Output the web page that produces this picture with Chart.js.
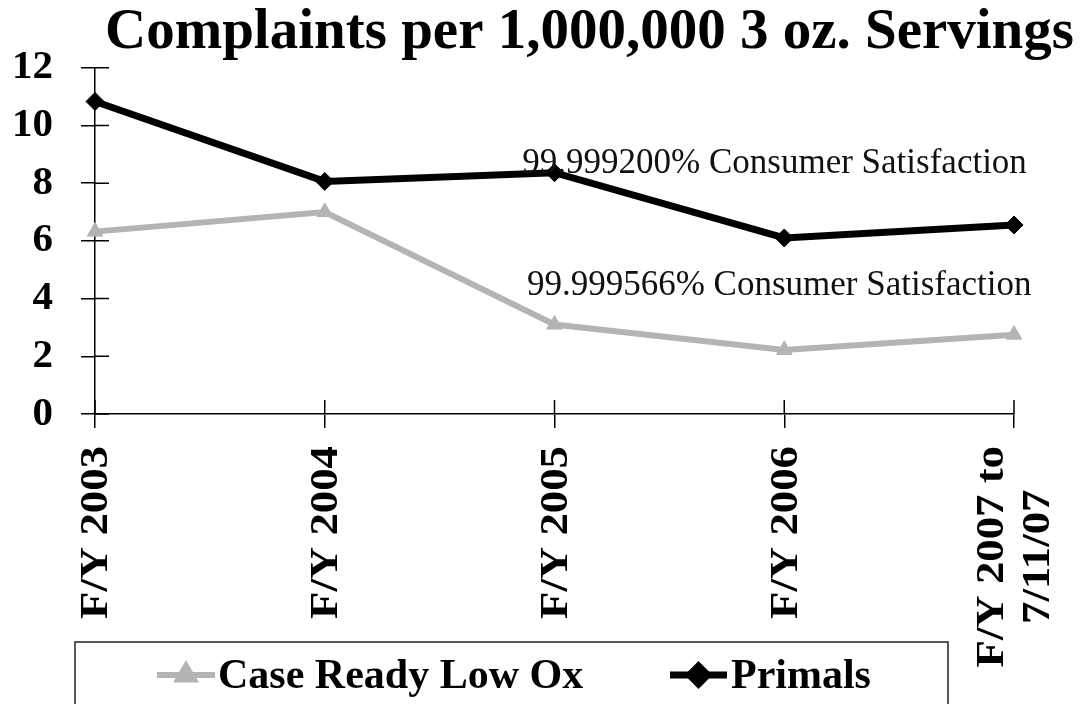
<!DOCTYPE html>
<html>
<head>
<meta charset="utf-8">
<script src="https://cdn.jsdelivr.net/npm/chart.js@4.4.1/dist/chart.umd.min.js"></script>
<style>
  html, body { margin: 0; padding: 0; background: #fff; }
  #wrap { width: 1080px; height: 704px; }
</style>
</head>
<body>
<div id="wrap"><canvas id="chartCanvas" width="1080" height="704"></canvas></div>
<script>
// Datos del gráfico
const categorias = ['F/Y 2003', 'F/Y 2004', 'F/Y 2005', 'F/Y 2006', ['F/Y 2007 to', '7/11/07']];
const caseReady = [6.32, 7.0, 3.1, 2.22, 2.75];
const primals = [10.83, 8.06, 8.36, 6.1, 6.55];
const yTicks = [0, 2, 4, 6, 8, 10, 12];
const notas = [
    { texto: '99.999200% Consumer Satisfaction', x: 1.86, y: 8.36 },
    { texto: '99.999566% Consumer Satisfaction', x: 1.88, y: 4.13 }
];

const serif = "'Liberation Serif', 'Times New Roman', serif";

// Marcas interiores de los ejes (cruzan la línea del eje)
const innerTicks = {
    id: 'innerTicks',
    beforeDatasetsDraw(chart) {
        const ctx = chart.ctx;
        const x = chart.scales.x, y = chart.scales.y;
        ctx.save();
        ctx.strokeStyle = '#000';
        ctx.lineWidth = 1.5;
        ctx.beginPath();
        yTicks.forEach(v => {
            const py = y.getPixelForValue(v);
            ctx.moveTo(x.left, py);
            ctx.lineTo(x.left + 14, py);
        });
        categorias.forEach((c, i) => {
            const px = x.getPixelForTick(i);
            ctx.moveTo(px, y.bottom);
            ctx.lineTo(px, y.bottom - 14);
        });
        ctx.stroke();
        ctx.restore();
    }
};

// Etiquetas del eje X giradas
const xLabels = {
    id: 'xLabels',
    afterDraw(chart) {
        const ctx = chart.ctx;
        const x = chart.scales.x;
        const top = x.top + 32;
        const stretch = 1.12;
        const lh = 46;
        ctx.save();
        ctx.font = 'bold 40px ' + serif;
        ctx.fillStyle = '#000';
        chart.data.labels.forEach((label, i) => {
            const lines = Array.isArray(label) ? label : [label];
            const w = Math.max(...lines.map(l => ctx.measureText(l).width)) * stretch;
            const px = x.getPixelForTick(i);
            ctx.save();
            ctx.translate(px, top + w / 2);
            ctx.rotate(-Math.PI / 2);
            ctx.scale(stretch, 1);
            ctx.textAlign = 'center';
            ctx.textBaseline = 'middle';
            lines.forEach((l, j) => {
                ctx.fillText(l, 0, (j - (lines.length - 1) / 2) * lh + 2);
            });
            ctx.restore();
        });
        ctx.restore();
    }
};

// Textos de satisfacción
const notasPlugin = {
    id: 'notas',
    afterDatasetsDraw(chart) {
        const ctx = chart.ctx;
        const x = chart.scales.x, y = chart.scales.y;
        ctx.save();
        ctx.font = '35px ' + serif;
        ctx.fillStyle = '#111';
        ctx.textBaseline = 'alphabetic';
        notas.forEach(n => {
            ctx.fillText(n.texto, x.getPixelForValue(n.x), y.getPixelForValue(n.y));
        });
        ctx.restore();
    }
};

// Leyenda en recuadro abajo
const leyenda = {
    id: 'leyenda',
    afterDraw(chart) {
        const ctx = chart.ctx;
        const ds = chart.data.datasets;
        ctx.save();
        ctx.strokeStyle = '#222';
        ctx.lineWidth = 1.5;
        ctx.strokeRect(75, 642, 873, 90);
        const items = [
            { x0: 157, x1: 215, tx: 218, d: ds[0] },
            { x0: 670, x1: 727, tx: 731, d: ds[1] }
        ];
        const cy = 675;
        items.forEach(it => {
            ctx.strokeStyle = it.d.borderColor;
            ctx.lineWidth = it.d.borderWidth;
            ctx.beginPath();
            ctx.moveTo(it.x0, cy);
            ctx.lineTo(it.x1, cy);
            ctx.stroke();
            Chart.helpers.drawPoint(ctx, {
                pointStyle: it.d.pointStyle,
                radius: it.d.pointRadius,
                borderWidth: 1
            }, (it.x0 + it.x1) / 2, cy);
            ctx.fillStyle = '#000';
            ctx.font = 'bold 42px ' + serif;
            ctx.textBaseline = 'middle';
            ctx.fillText(it.d.label, it.tx, cy + 2);
        });
        ctx.restore();
    }
};

const ctx = document.getElementById('chartCanvas').getContext('2d');
new Chart(ctx, {
    type: 'line',
    data: {
        labels: categorias,
        datasets: [
            {
                label: 'Case Ready Low Ox',
                data: caseReady,
                borderColor: '#b4b4b4',
                backgroundColor: '#b4b4b4',
                borderWidth: 6,
                pointStyle: 'triangle',
                pointRadius: 9,
                pointBorderWidth: 1,
                tension: 0,
                clip: false
            },
            {
                label: 'Primals',
                data: primals,
                borderColor: '#000',
                backgroundColor: '#000',
                borderWidth: 7,
                pointStyle: 'rectRot',
                pointRadius: 9,
                pointBorderWidth: 1,
                tension: 0,
                clip: false
            }
        ]
    },
    options: {
        responsive: false,
        animation: false,
        layout: { padding: { left: 0, right: 6, top: 0, bottom: 0 } },
        plugins: {
            legend: { display: false },
            tooltip: { enabled: false },
            title: {
                display: true,
                text: 'Complaints per 1,000,000 3 oz. Servings',
                align: 'end',
                color: '#000',
                font: { family: serif, size: 57, weight: 'bold', lineHeight: 1.1 },
                padding: { top: 2, bottom: 3 }
            }
        },
        scales: {
            x: {
                offset: false,
                grid: { display: true, drawOnChartArea: false, drawTicks: true, tickLength: 14, color: '#000', lineWidth: 1.5 },
                border: { display: true, color: '#000', width: 1.5 },
                ticks: { display: false },
                afterFit(scale) {
                    scale.height = 290;
                    scale.paddingLeft = 0;
                    scale.paddingRight = 66;
                }
            },
            y: {
                min: 0,
                max: 12,
                afterBuildTicks(scale) {
                    scale.ticks = yTicks.map(v => ({ value: v }));
                },
                grid: { display: true, drawOnChartArea: false, drawTicks: true, tickLength: 14, color: '#000', lineWidth: 1.5 },
                border: { display: true, color: '#000', width: 1.5 },
                ticks: {
                    color: '#000',
                    padding: 28,
                    font: { family: serif, size: 41, weight: 'bold' }
                },
                afterFit(scale) {
                    scale.width = 95;
                }
            }
        }
    },
    plugins: [innerTicks, notasPlugin, xLabels, leyenda]
});
</script>
</body>
</html>
